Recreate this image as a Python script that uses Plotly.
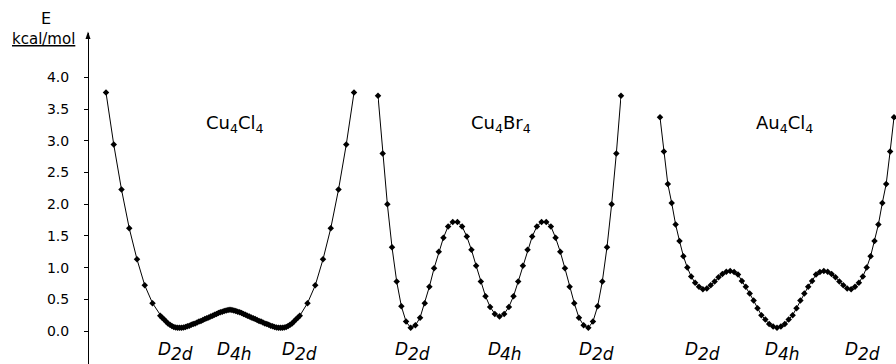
import plotly.graph_objects as go

# ---------------- data ----------------
Y_TICK_VALS = [0.0, 0.5, 1.0, 1.5, 2.0, 2.5, 3.0, 3.5, 4.0]
Y_TICK_TEXT = ["0.0", "0.5", "1.0", "1.5", "2.0", "2.5", "3.0", "3.5", "4.0"]

# Cu4Cl4: reaction coordinate in steps of 1/64
CU4CL4_X = [-64, -60, -56, -52, -48, -44, -40] + list(range(-36, 37)) + [40, 44, 48, 52, 56, 60, 64]
CU4CL4_E = [3.76, 2.94, 2.23, 1.62, 1.13, 0.72, 0.44,
            0.24, 0.21, 0.18, 0.15, 0.12, 0.10, 0.08, 0.065, 0.055, 0.05, 0.05, 0.05,
            0.055, 0.065, 0.075, 0.085, 0.10, 0.11, 0.12, 0.135, 0.15, 0.16, 0.175, 0.19,
            0.20, 0.215, 0.23, 0.24, 0.255, 0.27, 0.285, 0.295, 0.305, 0.315, 0.325, 0.33,
            0.335,
            0.33, 0.325, 0.315, 0.305, 0.295, 0.285, 0.27, 0.255, 0.24, 0.23, 0.215, 0.20,
            0.19, 0.175, 0.16, 0.15, 0.135, 0.12, 0.11, 0.10, 0.085, 0.075, 0.065, 0.055,
            0.05, 0.05, 0.05, 0.055, 0.065, 0.08, 0.10, 0.12, 0.15, 0.18, 0.21, 0.24,
            0.44, 0.72, 1.13, 1.62, 2.23, 2.94, 3.76]

# Cu4Br4: steps -26..26
CU4BR4_X = list(range(-26, 27))
CU4BR4_E = [3.71, 2.80, 2.00, 1.32, 0.78, 0.39, 0.15, 0.05, 0.09, 0.21, 0.44, 0.70, 0.99,
            1.25, 1.47, 1.65, 1.72, 1.72, 1.65, 1.49, 1.28, 1.03, 0.78, 0.55, 0.38, 0.27,
            0.23,
            0.27, 0.38, 0.55, 0.78, 1.03, 1.28, 1.49, 1.65, 1.72, 1.72, 1.65, 1.47, 1.25,
            0.99, 0.70, 0.44, 0.21, 0.09, 0.05, 0.15, 0.39, 0.78, 1.32, 2.00, 2.80, 3.71]

# Au4Cl4: steps -30..30
AU4CL4_X = list(range(-30, 31))
AU4CL4_E = [3.37, 2.83, 2.32, 2.02, 1.68, 1.42, 1.18, 1.00, 0.86, 0.76, 0.70, 0.66, 0.67,
            0.72, 0.78, 0.85, 0.90, 0.935, 0.945, 0.93, 0.89, 0.79, 0.70, 0.59, 0.48, 0.36,
            0.25, 0.18, 0.11, 0.07,
            0.05,
            0.07, 0.11, 0.18, 0.25, 0.36, 0.48, 0.59, 0.70, 0.79, 0.89, 0.93, 0.945, 0.935,
            0.90, 0.85, 0.78, 0.72, 0.67, 0.66, 0.70, 0.76, 0.86, 1.00, 1.18, 1.42, 1.68,
            2.02, 2.32, 2.83, 3.37]

PANEL_NAMES = ["Cu<sub>4</sub>Cl<sub>4</sub>", "Cu<sub>4</sub>Br<sub>4</sub>", "Au<sub>4</sub>Cl<sub>4</sub>"]
SYM_MAIN = ["D", "D", "D"]
SYM_SUB = ["2d", "4h", "2d"]

# ---------------- layout helpers ----------------
W, H = 896, 364
MT = 33
PH = H - MT


def px(x):
    return x / W


def py(y):
    return 1 - (y - MT) / PH


FONT = "DejaVu Sans"

fig = go.Figure()
series = [(CU4CL4_X, CU4CL4_E, "x"), (CU4BR4_X, CU4BR4_E, "x2"), (AU4CL4_X, AU4CL4_E, "x3")]
for xs, es, xa in series:
    fig.add_trace(go.Scatter(
        x=xs, y=es, xaxis=xa, yaxis="y", mode="lines+markers",
        line=dict(color="black", width=1),
        marker=dict(symbol="diamond", size=5, color="black"),
        cliponaxis=False, showlegend=False, hoverinfo="skip"))

xa_common = dict(visible=False, showgrid=False, zeroline=False, anchor="y")
fig.update_layout(
    width=W, height=H,
    margin=dict(l=0, r=0, t=MT, b=0, pad=0),
    paper_bgcolor="white", plot_bgcolor="rgba(0,0,0,0)",
    font=dict(family=FONT, color="black", size=14),
    xaxis=dict(domain=[px(106), px(354)], range=[-64, 64], **xa_common),
    xaxis2=dict(domain=[px(378), px(621)], range=[-26, 26], **xa_common),
    xaxis3=dict(domain=[px(660), px(894)], range=[-30, 30], **xa_common),
    yaxis=dict(anchor="free", position=px(88), range=[-0.52, 4.70],
               tickvals=Y_TICK_VALS, ticktext=Y_TICK_TEXT,
               showgrid=False, zeroline=False, showline=True, linecolor="black", linewidth=1,
               ticks="outside", ticklen=4, tickcolor="black", tickwidth=1,
               ticklabelstandoff=12,
               tickfont=dict(family=FONT, size=14, color="black")),
)

# axis arrow head
fig.add_shape(type="path", xref="paper", yref="paper",
              path=f"M {px(85.5)},{py(39)} L {px(90.5)},{py(39)} L {px(88)},{py(31.5)} Z",
              fillcolor="black", line=dict(color="black", width=0))

# axis titles
fig.add_annotation(text="E", x=px(46), y=py(28.5), xref="paper", yref="paper",
                   showarrow=False, xanchor="center", yanchor="bottom", borderpad=0,
                   font=dict(family=FONT, size=16, color="black"))
fig.add_annotation(text="<u>kcal/mol</u>", x=px(43.5), y=py(28.5), xref="paper", yref="paper",
                   showarrow=False, xanchor="center", yanchor="top", borderpad=0,
                   font=dict(family=FONT, size=15, color="black"))

# panel names
for name, cx in zip(PANEL_NAMES, [235, 501, 784]):
    fig.add_annotation(text=name, x=px(cx), y=py(124), xref="paper", yref="paper",
                       showarrow=False, xanchor="center", yanchor="middle",
                       font=dict(family=FONT, size=18, color="black"))

# symmetry labels: left edge of each label
label_lefts = [[156, 215, 280], [393, 486, 577], [683, 763, 843]]
for lefts in label_lefts:
    for main, sub, lx in zip(SYM_MAIN, SYM_SUB, lefts):
        fig.add_annotation(text=f"<i>{main}</i>", x=px(lx), y=py(348.5), xref="paper", yref="paper",
                           showarrow=False, xanchor="left", yanchor="middle",
                           font=dict(family=FONT, size=17, color="black"))
        fig.add_annotation(text=f"<i>{sub}</i>", x=px(lx + 12.5), y=py(354), xref="paper", yref="paper",
                           showarrow=False, xanchor="left", yanchor="middle",
                           font=dict(family=FONT, size=17, color="black"))

fig.write_html("out.html")
